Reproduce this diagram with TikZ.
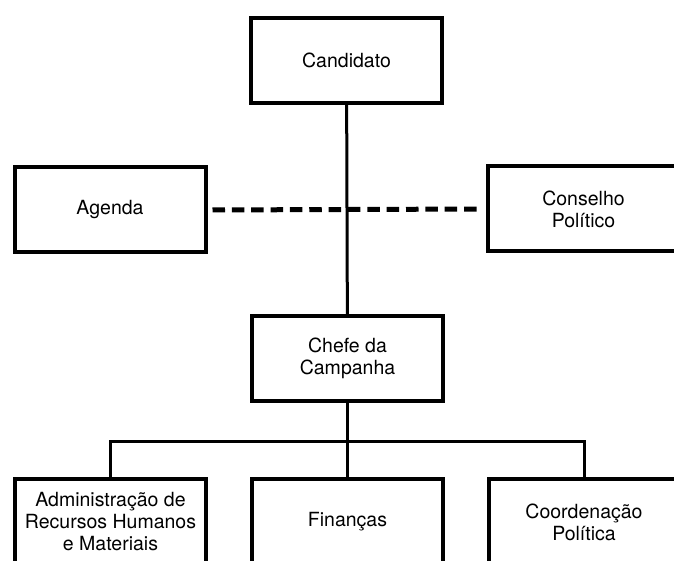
\documentclass[tikz,border=0pt]{standalone}
\usepackage{fontspec}
\setmainfont{TeX Gyre Heros}
\tikzset{
  org chart/.style={
    x=1pt, y=-1pt, line width=3pt,
    every node/.style={font=\fontsize{19.5}{22}\selectfont,
      text=black, align=center, inner sep=0pt}
  },
  org box/.style={draw=black, line width=4pt,
    minimum width=191pt, minimum height=85pt},
  org link/.style={draw=black, line width=3pt},
  org dash/.style={draw=black, line width=5pt,
    dash pattern=on 12.5pt off 6.85pt}
}

\begin{document}
\begin{tikzpicture}[org chart]
    \useasboundingbox (0,0) rectangle (674,561);
    \node[org box] (cand) at (346.5,60.5) {Candidato};
    \node[org box] (agenda) at (110,210) {Agenda};
    \node[org box] (conselho) at (583.5,209) {Conselho\\Político};
    \node[org box] (chefe) at (347.5,358.5) {Chefe da\\Campanha};
    \node[org box, minimum height=86pt] (admin) at (110.5,522)
      {Administração de\\Recursos Humanos\\e Materiais};
    \node[org box, minimum height=86pt] (fin) at (347.5,522) {Finanças};
    \node[org box, minimum height=86pt] (coord) at (584,522) {Coordenação\\Política};
    \coordinate (bus) at (347.5,441);
    \draw[org link] (cand) -- (chefe);
    \draw[org dash, shorten <=5pt, shorten >=9pt] (agenda.east) -- (conselho.west);
    \draw[org link] (chefe) -- (fin);
    \draw[org link] (admin.north) |- (bus) -| (coord.north);
\end{tikzpicture}
\end{document}
